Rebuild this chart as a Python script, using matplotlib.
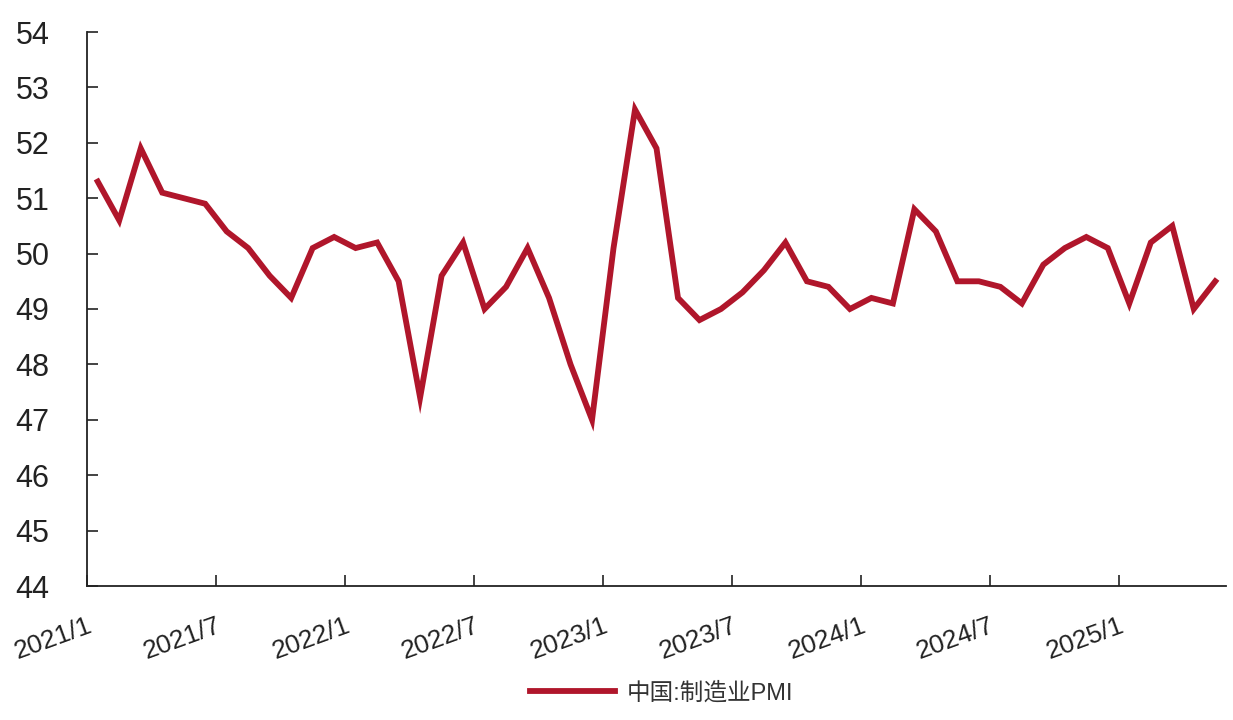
import numpy as np
import matplotlib.pyplot as plt

plt.rcParams['font.family'] = ['Liberation Sans', 'Noto Sans CJK SC', 'DejaVu Sans']

# 中国:制造业PMI, 2021/1 - 2025/5
pmi_2021 = [51.3, 50.6, 51.9, 51.1, 51.0, 50.9, 50.4, 50.1, 49.6, 49.2, 50.1, 50.3]
pmi_2022 = [50.1, 50.2, 49.5, 47.4, 49.6, 50.2, 49.0, 49.4, 50.1, 49.2, 48.0, 47.0]
pmi_2023 = [50.1, 52.6, 51.9, 49.2, 48.8, 49.0, 49.3, 49.7, 50.2, 49.5, 49.4, 49.0]
pmi_2024 = [49.2, 49.1, 50.8, 50.4, 49.5, 49.5, 49.4, 49.1, 49.8, 50.1, 50.3, 50.1]
pmi_2025 = [49.1, 50.2, 50.5, 49.0, 49.5]
pmi = pmi_2021 + pmi_2022 + pmi_2023 + pmi_2024 + pmi_2025

tick_labels = ['2021/1', '2021/7', '2022/1', '2022/7', '2023/1',
               '2023/7', '2024/1', '2024/7', '2025/1']
y_ticks = list(range(44, 55))

n = len(pmi)
x = np.arange(n) + 0.5

fig = plt.figure(figsize=(12.33, 7.2), dpi=100)
ax = fig.add_axes([87 / 1233, 1 - 586 / 720, (1226 - 87) / 1233, (586 - 32) / 720])

ax.plot(x, pmi, color='#B0162B', lw=4.2, solid_joinstyle='miter',
        label='中国:制造业PMI')

ax.set_xlim(0, n)
ax.set_ylim(44, 54)
ax.set_yticks(y_ticks)
ax.set_yticklabels([str(v) for v in y_ticks], fontsize=22, color='#222222')
ax.set_xticks(np.arange(0, 6 * len(tick_labels), 6))
ax.set_xticklabels(tick_labels, rotation=20, ha='right', rotation_mode='anchor',
                   fontsize=19, color='#222222')

for s in ['top', 'right']:
    ax.spines[s].set_visible(False)
for s in ['left', 'bottom']:
    ax.spines[s].set_linewidth(1.3)
    ax.spines[s].set_color('#222222')
ax.tick_params(axis='both', direction='in', length=8, width=1.2, color='#222222')
ax.tick_params(axis='y', pad=27)
ax.tick_params(axis='x', pad=20)

leg = fig.legend(loc='center', bbox_to_anchor=(662 / 1233, 1 - 693 / 720),
                 frameon=False, fontsize=17, handlelength=3.6, handletextpad=0.5)
for t in leg.get_texts():
    t.set_color('#333333')

fig.savefig('out.png', dpi=100)
